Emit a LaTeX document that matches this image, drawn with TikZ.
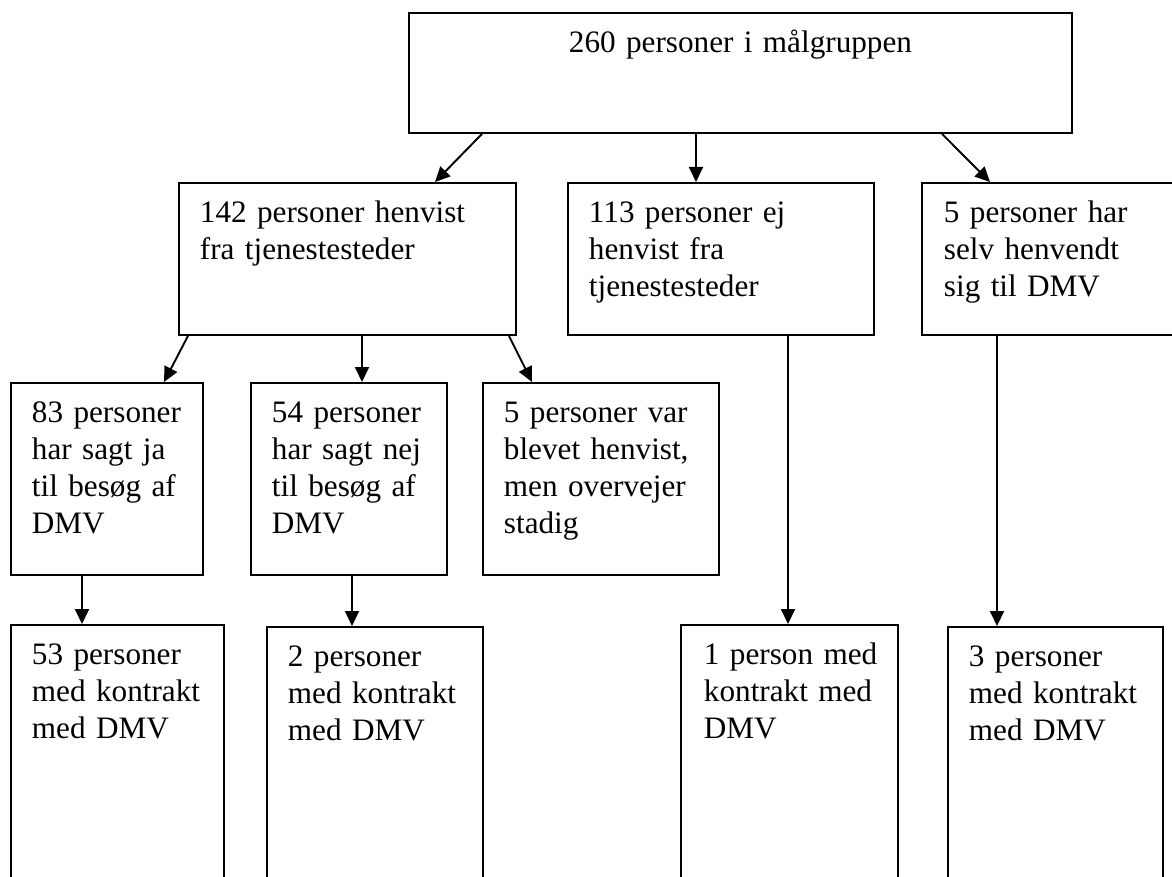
\documentclass[tikz,border=0pt]{standalone}
\usepackage{fontspec}
\setmainfont{Liberation Serif}
\usetikzlibrary{arrows.meta}

\begin{document}
\begin{tikzpicture}
    [
    x=1pt, y=-1pt,
    every node/.style={font=\fontsize{31.2pt}{37pt}\selectfont},
    box/.style={rectangle, draw, line width=1.9pt, anchor=north west, align=left, inner xsep=21pt, inner ysep=0pt, text height=40pt},
    arrow/.style={->, >={Triangle[length=15pt, width=14pt]}, line width=1.9pt}
    ]

    \useasboundingbox (0,0) rectangle (1172,877);
    \clip (0,0) rectangle (1172,877);

% Target group
    \node[box, align=center, text width=621pt, text depth=80pt] (all) at (408,12) {260 personer i målgruppen};

% Second row
    \node[box, text width=295pt, text depth=112pt] (referred) at (178,182) {142 personer henvist\\fra tjenestesteder};
    \node[box, text width=264pt, text depth=112pt] (not_referred) at (567,182) {113 personer ej\\henvist fra\\tjenestesteder};
    \node[box, inner xsep=22pt, text width=236pt, text depth=112pt] (self_referred) at (921,182) {5 personer har\\selv henvendt\\sig til DMV};

% Third row
    \node[box, text width=150pt, text depth=152pt] (said_yes) at (10,382) {83 personer\\har sagt ja\\til besøg af\\DMV};
    \node[box, text width=154pt, text depth=152pt] (said_no) at (250,382) {54 personer\\har sagt nej\\til besøg af\\DMV};
    \node[box, text width=194pt, text depth=152pt] (pending) at (482,382) {5 personer var\\blevet henvist,\\men overvejer\\stadig};

% Contracts
    \node[box, text width=171pt, text depth=260pt] (contract_yes) at (10,624) {\mbox{53 personer}\\\mbox{med kontrakt}\\med DMV};
    \node[box, text width=174pt, text depth=260pt] (contract_no) at (266,626) {2 personer\\\mbox{med kontrakt}\\med DMV};
    \node[box, inner xsep=23pt, text width=171pt, text depth=260pt] (contract_notref) at (680,624) {\mbox{1 person med}\\\mbox{kontrakt med}\\DMV};
    \node[box, text width=173pt, text depth=260pt] (contract_self) at (947,626) {3 personer\\\mbox{med kontrakt}\\med DMV};

% Arrows
    \draw[arrow] ([xshift=74pt]all.south west) -- ([xshift=257pt]referred.north west);
    \draw[arrow] ([xshift=288pt]all.south west) -- ([xshift=129pt]not_referred.north west);
    \draw[arrow] ([xshift=534pt]all.south west) -- ([xshift=69pt]self_referred.north west);

    \draw[arrow] ([xshift=10pt]referred.south west) -- ([xshift=154pt]said_yes.north west);
    \draw[arrow] ([xshift=184pt]referred.south west) -- ([xshift=112pt]said_no.north west);
    \draw[arrow] ([xshift=331pt]referred.south west) -- ([xshift=50pt]pending.north west);

    \draw[arrow] ([xshift=72pt]said_yes.south west) -- ([xshift=72pt]contract_yes.north west);
    \draw[arrow] ([xshift=102pt]said_no.south west) -- ([xshift=86pt]contract_no.north west);
    \draw[arrow] ([xshift=221pt]not_referred.south west) -- ([xshift=108pt]contract_notref.north west);
    \draw[arrow] ([xshift=76pt]self_referred.south west) -- ([xshift=50pt]contract_self.north west);

\end{tikzpicture}
\end{document}
